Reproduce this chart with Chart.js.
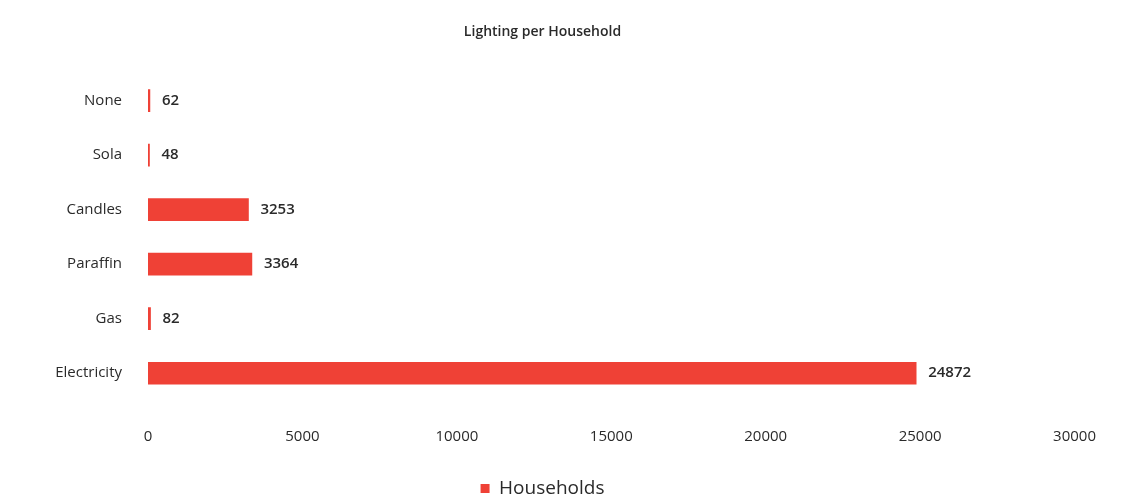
<!DOCTYPE html>
<html>
<head>
<meta charset="utf-8">
<script src="https://cdn.jsdelivr.net/npm/chart.js@4.4.1/dist/chart.umd.min.js"></script>
<style>
  html, body { margin: 0; padding: 0; background: #ffffff; }
  #wrap { width: 1123px; height: 500px; }
</style>
</head>
<body>
<div id="wrap"><canvas id="c" width="1123" height="500"></canvas></div>
<script>
// Household lighting sources
const categories = ['None', 'Sola', 'Candles', 'Paraffin', 'Gas', 'Electricity'];
const households = [62, 48, 3253, 3364, 82, 24872];
const xTicks = [0, 5000, 10000, 15000, 20000, 25000, 30000];

const FONT = '"Open Sans", "Liberation Sans", sans-serif';
const TEXT = '#2a2a2a';
const BAR = '#ef4136';

// Writes each bar's value just past its end
const valueLabels = {
  id: 'valueLabels',
  afterDatasetsDraw(chart) {
    const ctx = chart.ctx;
    const meta = chart.getDatasetMeta(0);
    ctx.save();
    ctx.font = '600 15px ' + FONT;
    ctx.fillStyle = TEXT;
    ctx.textAlign = 'left';
    ctx.textBaseline = 'middle';
    meta.data.forEach((bar, i) => {
      ctx.fillText(String(households[i]), bar.x + 12, bar.y);
    });
    ctx.restore();
  }
};

new Chart(document.getElementById('c'), {
  type: 'bar',
  data: {
    labels: categories,
    datasets: [{
      label: 'Households',
      data: households,
      backgroundColor: BAR,
      borderWidth: 0,
      barThickness: 22
    }]
  },
  options: {
    indexAxis: 'y',
    responsive: false,
    animation: false,
    layout: { padding: { left: 0, right: 38, top: 0, bottom: -8 } },
    scales: {
      x: {
        min: 0,
        max: 30000,
        afterBuildTicks(scale) {
          scale.ticks = xTicks.map(v => ({ value: v }));
        },
        afterFit(scale) { scale.height = 76.5; },
        grid: { display: false, drawTicks: false },
        border: { display: false },
        ticks: {
          color: TEXT,
          font: { family: FONT, size: 15 },
          padding: 27,
          maxRotation: 0,
          autoSkip: false,
          callback: v => String(v)
        }
      },
      y: {
        grid: { display: false, drawTicks: false },
        border: { display: false },
        afterFit(scale) { scale.width = 148; },
        ticks: {
          color: TEXT,
          font: { family: FONT, size: 15 },
          padding: 26
        }
      }
    },
    plugins: {
      title: {
        display: true,
        text: 'Lighting per Household',
        color: TEXT,
        font: { family: FONT, size: 14, weight: '600' },
        padding: { top: 24, bottom: 32.5 }
      },
      legend: {
        display: true,
        position: 'bottom',
        labels: {
          color: TEXT,
          font: { family: FONT, size: 19 },
          boxWidth: 9,
          boxHeight: 9,
          padding: 2
        }
      },
      tooltip: { enabled: false }
    }
  },
  plugins: [valueLabels]
});
</script>
</body>
</html>
